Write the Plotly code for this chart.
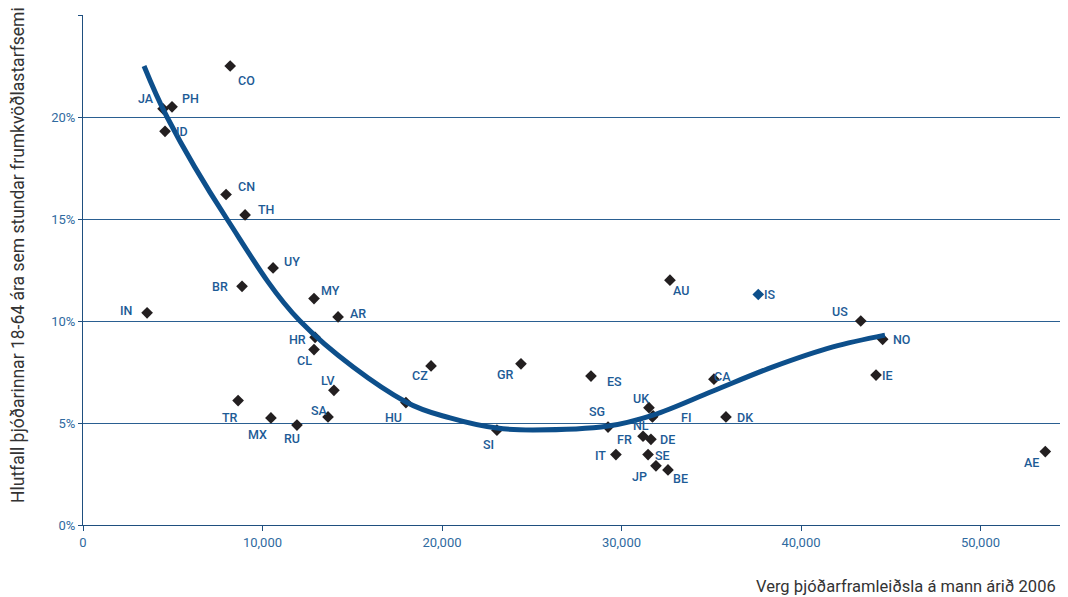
import plotly.graph_objects as go

countries = ["CO", "JA", "PH", "ID", "CN", "TH", "UY", "BR", "IN", "MY", "AR", "HR", "CL",
             "LV", "TR", "MX", "RU", "SA", "HU", "CZ", "GR", "SI", "ES", "SG", "UK", "NL",
             "FR", "DE", "IT", "SE", "JP", "BE", "AU", "IS", "CA", "DK", "US", "NO", "IE",
             "AE", "FI"]
gdp = [8200, 4460, 4960, 4570, 7970, 9030, 10590, 8860, 3570, 12870, 14210, 12930, 12870,
       13980, 8640, 10470, 11920, 13650, 17990, 19390, 24400, 23060, 28300, 29250, 31530, 31760,
       31200, 31640, 29690, 31480, 31920, 32590, 32700, 37620, 35150, 35820, 43330, 44550, 44180,
       53610, 31720]
tea = [22.5, 20.4, 20.5, 19.3, 16.2, 15.2, 12.6, 11.7, 10.4, 11.1, 10.2, 9.2, 8.6,
       6.6, 6.1, 5.25, 4.9, 5.3, 6.0, 7.8, 7.9, 4.65, 7.3, 4.8, 5.75, 5.35,
       4.35, 4.2, 3.45, 3.45, 2.9, 2.7, 12.0, 11.3, 7.15, 5.3, 10.0, 9.1, 7.35,
       3.6, 5.3]
# label offsets in pixels (dx right, dy down)
label_dx = [16, -17, 18, 17, 20, 21, 19, -22, -21, 16, 20, -18, -10,
            -6, -8, -13, -5, -9, -12, -11, -15, -8, 24, -11, -8, -12,
            -19, 17, -15, 14, -16, 13, 11, 12, 9, 19, -21, 19, 11,
            -14, 34]
label_dy = [14, -10, -8, 0, -8, -5, -6, 0, -2, -8, -3, 2, 11,
            -10, 17, 17, 13, -6, 15, 10, 11, 14, 5, -16, -9, 10,
            3, 0, 1, 1, 11, 9, 10, 0, -3, 1, -10, 0, 0,
            11, 1]
highlight = "IS"

# trend curve
trend_x = [3400, 4680, 8020, 12090, 17990, 20450, 23060, 25070, 29250, 31760, 35100,
           38440, 41780, 44680]
trend_y = [22.5, 20.0, 15.0, 10.0, 6.03, 5.25, 4.75, 4.66, 4.85, 5.39, 6.57,
           7.75, 8.73, 9.31]

y_ticks = [0, 5, 10, 15, 20, 25]
y_ticktext = ["0%", "5%", "10%", "15%", "20%", "25%"]
x_ticks = [0, 10000, 20000, 30000, 40000, 50000]

marker_colors = ["#0d4f8b" if c == highlight else "#231f20" for c in countries]

fig = go.Figure()
fig.add_trace(go.Scatter(
    x=gdp, y=tea, mode="markers",
    marker=dict(symbol="diamond", size=9, color=marker_colors),
    hoverinfo="text", text=countries, showlegend=False))
fig.add_trace(go.Scatter(x=trend_x, y=trend_y, mode="lines",
                         line=dict(color="#0d4f8b", width=5, shape="spline", smoothing=1.0),
                         hoverinfo="skip", showlegend=False))

for c, x, y, dx, dy in zip(countries, gdp, tea, label_dx, label_dy):
    fig.add_annotation(x=x, y=y, text=c, showarrow=False, xshift=dx, yshift=-dy,
                       xanchor="center", yanchor="middle",
                       font=dict(family="Roboto", size=12.5, color="#1d5b96", weight=500))

axis_color = "#1f4f7f"
tick_font = dict(size=13, color="#2f6aa0", family="Roboto")
fig.update_layout(
    width=1060, height=589,
    margin=dict(l=75, r=0, t=7, b=72),
    paper_bgcolor="white", plot_bgcolor="white",
    font=dict(family="Roboto"),
    xaxis=dict(range=[0, 54875], tickvals=x_ticks, tickformat=",",
               showgrid=False, zeroline=False,
               showline=True, linecolor=axis_color, linewidth=1,
               ticks="outside", ticklen=5, tickcolor=axis_color, tickfont=tick_font),
    yaxis=dict(range=[0, 25], tickvals=y_ticks, ticktext=y_ticktext,
               showgrid=True, gridcolor="#2a5f91", gridwidth=1, zeroline=False,
               showline=True, linecolor=axis_color, linewidth=1,
               ticks="outside", ticklen=4, tickcolor=axis_color, tickfont=tick_font),
)
fig.add_annotation(xref="paper", yref="paper", x=1.0, y=0, xanchor="right", yanchor="middle",
                   xshift=-10, yshift=-61,
                   text="Verg þjóðarframleiðsla á mann árið 2006", showarrow=False,
                   font=dict(size=16.5, color="#333333", family="Roboto"))
fig.add_annotation(xref="paper", yref="paper", x=0, y=0.5, xanchor="center", yanchor="middle",
                   xshift=-65, yshift=15, textangle=-90,
                   text="Hlutfall þjóðarinnar 18-64 ára sem stundar frumkvöðlastarfsemi",
                   showarrow=False,
                   font=dict(size=17.5, color="#333333", family="Roboto"))

fig.write_html("out.html")
